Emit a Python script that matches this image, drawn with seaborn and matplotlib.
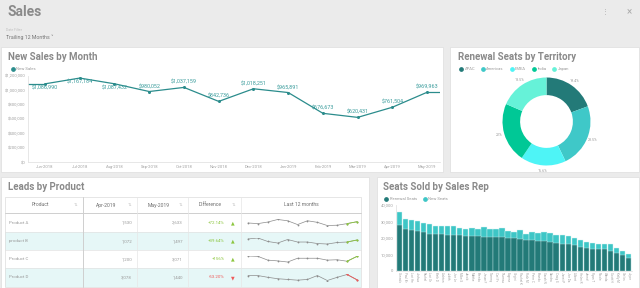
import numpy as np
import pandas as pd
import matplotlib.pyplot as plt
from matplotlib.patches import Rectangle
from matplotlib.lines import Line2D
from matplotlib.ticker import FuncFormatter
import seaborn as sns

# ---- data -------------------------------------------------------------------
months = ['Jun-2018', 'Jul-2018', 'Aug-2018', 'Sep-2018', 'Oct-2018', 'Nov-2018',
          'Dec-2018', 'Jan-2019', 'Feb-2019', 'Mar-2019', 'Apr-2019', 'May-2019']
new_sales = [1086990, 1167184, 1087432, 980052, 1037159, 842736,
             1018251, 965891, 676673, 620431, 761504, 969963]

territories = ['APAC', 'Americas', 'EMEA', 'India', 'Japan']
territory_share = [19.4, 23.5, 16.6, 22, 18.5]

products = ['Product A', 'product B', 'Product C', 'Product D']
leads_apr = [1530, 1072, 1200, 3078]
leads_may = [2633, 1497, 3071, 1440]
leads_diff = ['+72.14%', '+39.64%', '+156%', '-53.20%']
leads_12m = [
    [1900, 1530, 2450, 3920, 3180, 980, 3180, 2270, 430, 610, 1530, 2633],
    [1710, 1920, 1180, 860, 1600, 1070, 1070, 750, 650, 970, 1072, 1497],
    [3215, 3071, 1630, 1340, 910, 2350, 2350, 2350, 1630, 1780, 1200, 3071],
    [2750, 2750, 2210, 1770, 1550, 1330, 1550, 2750, 1220, 2210, 3078, 1440],
]

# rep names are truncated on the dashboard axis
reps = ['Gonzalo', 'Paul Br', 'Lori He', 'Joshua', 'Rachel', 'Lori Or', 'Beth D',
        'Ashton', 'Judith', 'Joe Le', 'Mike S', 'Jacob', 'Matthe', 'Brenda',
        'Jesse F', 'Tommy', 'Carl Fr', 'Thomas', 'Eugene', 'Virgini', 'Rachel K',
        'Ruth M', 'Peter C', 'Brando', 'Sarah N', 'Sandra', 'Craig S', 'Janet P',
        'Joe Da', 'Albert', 'Helen R', 'Jennif', 'Ryan T', 'Nicole', 'Wanda',
        'Scott H', 'Kelly M', 'Carlos', 'Joyce']
renewal_seats = [27900, 25500, 25100, 24200, 23400, 22600, 22200, 22200, 22000, 22000,
                 21600, 21200, 21200, 21000, 20800, 20600, 20600, 20400, 19800, 19800,
                 19600, 18600, 18600, 18200, 18200, 17600, 16800, 16600, 16200, 15800,
                 14700, 13900, 13300, 13100, 13100, 12300, 10700, 9700, 8100]
new_seats = [7700, 5800, 5800, 6100, 5500, 5700, 5100, 5300, 5500, 5300,
             4700, 4300, 5100, 4500, 5900, 5100, 4700, 5700, 4600, 4000,
             5000, 3600, 5000, 5000, 5600, 5400, 5200, 5000, 4800, 4400,
             4100, 3700, 3500, 3100, 3300, 3900, 3200, 2400, 2000]

# ---- style ------------------------------------------------------------------
sns.set_theme(style='white')
plt.rcParams['font.family'] = ['Roboto', 'DejaVu Sans']

TEAL = '#2b8c8c'
DARK = '#237a78'
MID = '#3ec6c6'
territory_colors = ['#237a78', '#3fc8c8', '#4ef4f6', '#00c896', '#66f2d8']
TITLE = '#8a8a8a'
TICK = '#a0a0a0'
GREEN = '#8cc63f'
RED = '#ef5a5a'

W, H = 640, 288
fig = plt.figure(figsize=(6.4, 2.88), dpi=100, facecolor='#ebebeb')


def px_axes(left, top, width, height, **kw):
    return fig.add_axes([left / W, 1 - (top + height) / H, width / W, height / H], **kw)


def fig_legend(ax, labels, colors, x, y):
    handles = [Line2D([], [], marker='o', lw=0, ms=2.4, color=c) for c in colors]
    ax.legend(handles, labels, loc='center left', bbox_to_anchor=(x / W, 1 - y / H),
              bbox_transform=fig.transFigure, frameon=False, fontsize=3, ncol=len(labels),
              handletextpad=0.3, columnspacing=1.4, borderpad=0, handlelength=1.0,
              labelcolor='#999999')


# background, cards and header
bg = fig.add_axes([0, 0, 1, 1], zorder=0)
bg.set_xlim(0, W)
bg.set_ylim(H, 0)
bg.axis('off')
for (x, y, w, h) in [(1, 47, 442, 125), (450, 47, 189, 125), (1, 177, 368, 111), (377, 177, 262, 111)]:
    bg.add_patch(Rectangle((x, y), w, h, fc='white', ec='#dedede', lw=0.5))

bg.text(8, 12, 'Sales', fontsize=10, fontweight='bold', color=TITLE, va='center')
bg.text(6, 30, 'Date Filter', fontsize=2.5, color='#c0c0c0', va='center')
bg.text(6, 37, 'Trailing 12 Months ˅', fontsize=3.8, color='#777777', va='center')
bg.text(605, 12, '⋮', fontsize=5, color='#aaaaaa', ha='center', va='center')
bg.text(629, 12, '×', fontsize=7, color='#aaaaaa', ha='center', va='center')

for (x, y, t) in [(8, 57, 'New Sales by Month'), (458, 57, 'Renewal Seats by Territory'),
                  (8, 187, 'Leads by Product'), (383, 187, 'Seats Sold by Sales Rep')]:
    bg.text(x, y, t, fontsize=7, fontweight='bold', color=TITLE, va='center')

# ---- New Sales by Month -----------------------------------------------------
ax1 = px_axes(28, 75.7, 412, 86.3)
xpos = np.arange(len(months))
x_lo, x_hi = -0.49, 11.37
ax1.plot([x_lo, xpos[0]], [new_sales[0], new_sales[0]], color=TEAL, lw=0.9)
ax1.plot([xpos[-1], x_hi], [new_sales[-1], new_sales[-1]], color=TEAL, lw=0.9)
sns.lineplot(x=xpos, y=new_sales, ax=ax1, color=TEAL, lw=0.9, marker='o', ms=2.2,
             markeredgewidth=0)
for i, v in enumerate(new_sales):
    off = -3.0 if v > 1050000 else 3.6
    ax1.annotate(f'${v:,.0f}', (i, v), xytext=(0, off), textcoords='offset points',
                 ha='center', va='center', fontsize=3.9, color='#3a9c9c')
ax1.set_xlim(x_lo, x_hi)
ax1.set_ylim(0, 1200000)
ax1.set_yticks(np.arange(0, 1200001, 200000))
ax1.yaxis.set_major_formatter(FuncFormatter(lambda v, p: f'${v:,.0f}'))
ax1.set_xticks(xpos)
ax1.set_xticklabels(months)
ax1.tick_params(axis='both', length=0, labelsize=3, colors=TICK, pad=2)
for s in ['top', 'right']:
    ax1.spines[s].set_visible(False)
for s in ['left', 'bottom']:
    ax1.spines[s].set_color('#e3e3e3')
    ax1.spines[s].set_linewidth(0.6)
ax1.set_facecolor('none')
fig_legend(ax1, ['New Sales'], [TEAL], 9, 69)

# ---- Renewal Seats by Territory ---------------------------------------------
ax2 = px_axes(480.5, 55.5, 132, 132)
ax2.pie(territory_share, colors=territory_colors, startangle=90, counterclock=False,
        radius=1, wedgeprops=dict(width=0.4, edgecolor='none'),
        autopct=lambda p: f'{p:.1f}%'.replace('.0%', '%'), pctdistance=1.13,
        textprops=dict(fontsize=2.6, color='#999999'))
ax2.set_xlim(-1.5, 1.5)
ax2.set_ylim(-1.5, 1.5)
fig_legend(ax2, territories, territory_colors, 457, 69)

# ---- Leads by Product (table) -----------------------------------------------
col_x = [5, 83, 137, 188, 241, 361]
row_y = [197, 213, 232, 250, 268, 287]
for r in range(len(products)):
    if r % 2 == 1:
        bg.add_patch(Rectangle((col_x[0], row_y[r + 1]), col_x[-1] - col_x[0],
                               row_y[r + 2] - row_y[r + 1], fc='#e6f7f7', ec='none'))
bg.add_patch(Rectangle((col_x[0], row_y[0]), col_x[-1] - col_x[0], row_y[-1] - row_y[0],
                       fc='none', ec='#dcdcdc', lw=0.5))
for yy in row_y[1:-1]:
    bg.plot([col_x[0], col_x[-1]], [yy, yy], color='#e2e2e2', lw=0.5)
bg.plot([col_x[0], col_x[-1]], [row_y[1], row_y[1]], color='#d0d0d0', lw=0.7)
for i, xx in enumerate(col_x[1:-1]):
    bg.plot([xx, xx], [row_y[0], row_y[-1]], color='#cfcfcf' if i == 0 else '#e6e6e6',
            lw=0.7 if i == 0 else 0.5)

headers = ['Product', 'Apr-2019', 'May-2019', 'Difference', 'Last 12 months']
hy = (row_y[0] + row_y[1]) / 2
for i, t in enumerate(headers):
    cx = (col_x[i] + col_x[i + 1]) / 2 - (4 if i < 4 else 0)
    bg.text(cx, hy, t, fontsize=3.6, color='#6f6f6f', ha='center', va='center')
    if i < 4:
        bg.text(col_x[i + 1] - 7, hy, '⇅', fontsize=3.2, color='#c8c8c8', ha='center', va='center')

for r, name in enumerate(products):
    cy = (row_y[r + 1] + row_y[r + 2]) / 2
    bg.text(col_x[0] + 4, cy, name, fontsize=3.2, color='#9a9a9a', va='center')
    bg.text(col_x[2] - 5, cy, f'{leads_apr[r]:,}', fontsize=3.2, color='#9a9a9a', ha='right', va='center')
    bg.text(col_x[3] - 5, cy, f'{leads_may[r]:,}', fontsize=3.2, color='#9a9a9a', ha='right', va='center')
    up = not leads_diff[r].startswith('-')
    c = GREEN if up else RED
    bg.text(225, cy, leads_diff[r], fontsize=3.2, color=c, ha='right', va='center')
    bg.text(233, cy, '▲' if up else '▼', fontsize=3.4, color=c, ha='center', va='center')

    sp = px_axes(247, cy - 3.5, 111, 7)
    vals = np.array(leads_12m[r])
    sns.lineplot(x=np.arange(12), y=vals, ax=sp, color='#8c8c8c', lw=0.5, marker='o',
                 ms=1.3, markeredgewidth=0)
    sns.lineplot(x=np.arange(10, 12), y=vals[10:], ax=sp, color=c, lw=0.6, marker='o',
                 ms=1.5, markeredgewidth=0)
    pad = (vals.max() - vals.min()) * 0.08
    sp.set_ylim(vals.min() - pad, vals.max() + pad)
    sp.set_xlim(-0.1, 11.1)
    sp.axis('off')

# ---- Seats Sold by Sales Rep ------------------------------------------------
ax4 = px_axes(396, 205, 236, 66)
seats = pd.DataFrame({'rep': reps, 'renewal': renewal_seats, 'new': new_seats})
seats['total'] = seats['renewal'] + seats['new']
sns.barplot(data=seats, x='rep', y='total', ax=ax4, color=MID, saturation=1, width=0.92,
            edgecolor='#d8f4f4', linewidth=0.3)
sns.barplot(data=seats, x='rep', y='renewal', ax=ax4, color=DARK, saturation=1, width=0.92,
            edgecolor='#bfe3e3', linewidth=0.3)
ax4.set_ylim(0, 40000)
ax4.set_xlim(-0.55, len(reps) - 0.45)
ax4.set_yticks(np.arange(0, 40001, 10000))
ax4.yaxis.set_major_formatter(FuncFormatter(lambda v, p: f'{v:,.0f}'))
ax4.set_xlabel('')
ax4.set_ylabel('')
ax4.tick_params(axis='both', length=0, labelsize=3, colors=TICK, pad=2)
ax4.tick_params(axis='x', labelsize=2.2, pad=1)
for lab in ax4.get_xticklabels():
    lab.set_rotation(-90)
    lab.set_va('top')
    lab.set_ha('center')
for s in ['top', 'right']:
    ax4.spines[s].set_visible(False)
for s in ['left', 'bottom']:
    ax4.spines[s].set_color('#e3e3e3')
    ax4.spines[s].set_linewidth(0.6)
ax4.set_facecolor('none')
fig_legend(ax4, ['Renewal Seats', 'New Seats'], [DARK, MID], 382, 199)

fig.savefig('out.png', dpi=100, facecolor=fig.get_facecolor())
